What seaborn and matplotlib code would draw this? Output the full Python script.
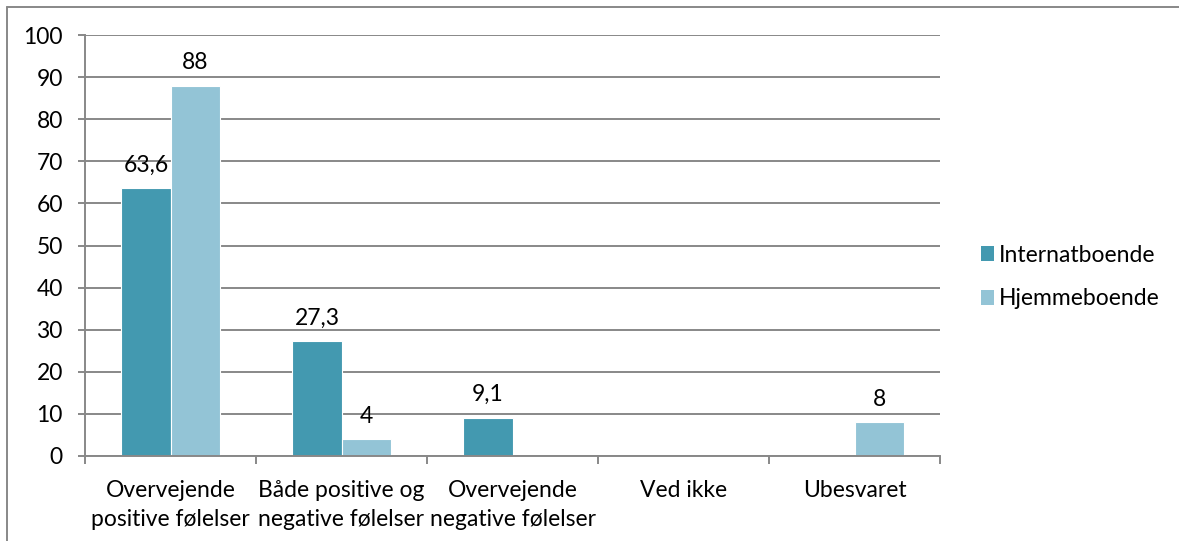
import matplotlib
matplotlib.use("Agg")
import matplotlib.pyplot as plt
import seaborn as sns
import pandas as pd
import numpy as np
from matplotlib.patches import Patch
from matplotlib.lines import Line2D

categories = ["Overvejende\npositive følelser", "Både positive og\nnegative følelser",
              "Overvejende\nnegative følelser", "Ved ikke", "Ubesvaret"]
series_names = ["Internatboende", "Hjemmeboende"]
internat = [63.6, 27.3, 9.1, 0, 0]
hjemme = [88, 4, 0, 0, 8]
y_ticks = [0, 10, 20, 30, 40, 50, 60, 70, 80, 90, 100]
colors = ["#4399B0", "#93C4D6"]

sns.set_theme(style="white")
plt.rcParams['font.family'] = ['Lato', 'DejaVu Sans']
FS = 16.5

df = pd.DataFrame({
    "cat": categories * 2,
    "serie": [series_names[0]] * 5 + [series_names[1]] * 5,
    "val": internat + hjemme,
})

fig = plt.figure(figsize=(11.79, 5.41), dpi=100)
ax = fig.add_axes([85/1179, 1 - 456/541, (940-85)/1179, (456-35)/541])

sns.barplot(data=df, x="cat", y="val", hue="serie", palette=colors, width=0.575,
            saturation=1, ax=ax, legend=False, edgecolor="white", linewidth=0.8,
            errorbar=None)

def fmt(v):
    if v == 0:
        return ""
    s = f"{v:g}"
    return s.replace(".", ",")

for cont, vals in zip(ax.containers, [internat, hjemme]):
    ax.bar_label(cont, labels=[fmt(v) for v in vals], padding=9, fontsize=FS, color="#000000")

ax.set_ylim(0, 100)
ax.set_xlim(-0.5, 4.5)
ax.set_yticks(y_ticks)
ax.set_xlabel("")
ax.set_ylabel("")
ax.yaxis.grid(True, color="#888888", linewidth=1.4)
ax.set_axisbelow(True)
for s in ["top", "right"]:
    ax.spines[s].set_visible(False)
for s in ["left", "bottom"]:
    ax.spines[s].set_color("#888888")
    ax.spines[s].set_linewidth(1.4)
ax.tick_params(axis="y", which="major", length=5, width=1.4, color="#888888",
               labelsize=FS, pad=11, direction="out", left=True, labelcolor="#000000")
ax.set_xticks(np.arange(-0.5, 5.0, 1.0), minor=True)
ax.tick_params(axis="x", which="minor", length=6, width=1.4, color="#888888",
               direction="out", bottom=True)
ax.tick_params(axis="x", which="major", length=0, labelsize=FS, pad=17, labelcolor="#000000")
for lbl in ax.get_xticklabels():
    lbl.set_linespacing(1.5)

handles = [Patch(facecolor=c, edgecolor="none") for c in colors]
fig.legend(handles, series_names, loc="center left", bbox_to_anchor=(960/1179, 1 - 277/541),
           frameon=False, fontsize=FS, handlelength=0.6, handleheight=0.6,
           handletextpad=0.2, labelspacing=1.0, labelcolor="#000000")

# chart area border (top and left edges visible)
fig.add_artist(Line2D([7/1179, 7/1179], [0, 1 - 7/541], transform=fig.transFigure,
                      color="#888888", linewidth=1.4))
fig.add_artist(Line2D([7/1179, 1], [1 - 7/541, 1 - 7/541], transform=fig.transFigure,
                      color="#888888", linewidth=1.4))

fig.savefig("out.png", dpi=100)
